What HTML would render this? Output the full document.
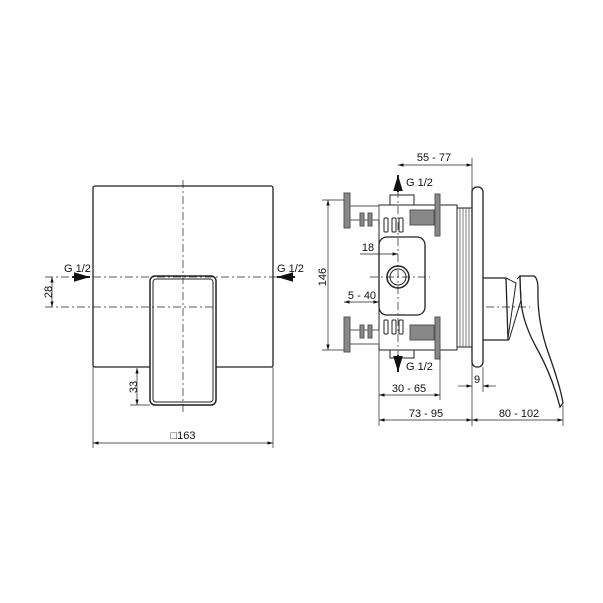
<!DOCTYPE html>
<html><head><style>body{margin:0;background:#fff}svg{display:block}text{font-family:"Liberation Sans",sans-serif;font-size:11px;fill:#111}</style></head><body>
<svg width="603" height="603" viewBox="0 0 603 603">
<defs><marker id="a" viewBox="0 0 10 6" refX="10" refY="3" markerWidth="8" markerHeight="5" orient="auto-start-reverse"><path d="M0,0L10,3L0,6z" fill="#111"/></marker></defs>
<g fill="none" stroke="#222" stroke-width="1">
<!-- left view -->
<rect x="93" y="186" width="180" height="181" rx="2" stroke-width="1.3"/>
<rect x="150" y="276" width="66" height="129" rx="5" fill="#fff" stroke-width="1.5"/>
<rect x="153" y="279" width="60" height="123" rx="3"/>
<g stroke-dasharray="8,3,2,3" stroke-width="0.7">
<line x1="183" y1="180" x2="183" y2="415"/>
<line x1="45" y1="277" x2="295" y2="277"/>
<line x1="45" y1="307" x2="215" y2="307"/>
</g>
<line x1="72" y1="277" x2="90" y2="277" stroke-width="2" marker-end="url(#a)"/>
<line x1="295" y1="277" x2="277" y2="277" stroke-width="2" marker-end="url(#a)"/>
<line x1="52" y1="277" x2="52" y2="307" stroke-width="0.7" marker-start="url(#a)" marker-end="url(#a)"/>
<line x1="137" y1="368" x2="137" y2="405" stroke-width="0.7" marker-start="url(#a)" marker-end="url(#a)"/>
<line x1="130" y1="405" x2="150" y2="405" stroke-width="0.7"/>
<line x1="93" y1="367" x2="93" y2="448" stroke-width="0.7"/>
<line x1="273" y1="367" x2="273" y2="448" stroke-width="0.7"/>
<line x1="93" y1="443" x2="273" y2="443" stroke-width="0.7" marker-start="url(#a)" marker-end="url(#a)"/>
<!-- right view -->
<rect x="472" y="187" width="11" height="180" rx="5" stroke-width="1.3"/>
<rect x="457" y="208" width="15" height="139"/>
<g stroke-width="0.6"><line x1="460" y1="208" x2="460" y2="347"/><line x1="463" y1="208" x2="463" y2="347"/><line x1="466" y1="208" x2="466" y2="347"/><line x1="469" y1="208" x2="469" y2="347"/></g>
<rect x="379" y="205" width="78" height="145"/>
<rect x="379" y="237" width="46" height="78" rx="8" stroke-width="1.3" fill="#fff"/>
<circle cx="398" cy="277" r="11" stroke-width="1.5"/><circle cx="398" cy="277" r="8"/>
<rect x="390" y="195" width="24" height="10"/>
<rect x="390" y="350" width="24" height="8"/>
<g fill="#888" stroke="#555"><rect x="344" y="193" width="6" height="35"/><rect x="344" y="317" width="6" height="35"/><rect x="435" y="194" width="5" height="42"/><rect x="435" y="317" width="5" height="42"/>
<rect x="350" y="206" width="29" height="14" fill="#fff"/><rect x="350" y="330" width="29" height="14" fill="#fff"/>
<rect x="360" y="213" width="4" height="13"/><rect x="368" y="213" width="4" height="13"/><rect x="360" y="325" width="4" height="13"/><rect x="368" y="325" width="4" height="13"/>
<rect x="410" y="210" width="24" height="15"/><rect x="410" y="325" width="24" height="15"/></g>
<rect x="384" y="218" width="4" height="14" rx="1"/><rect x="392" y="218" width="4" height="14" rx="1"/><rect x="399" y="218" width="4" height="14" rx="1"/>
<rect x="384" y="320" width="4" height="14" rx="1"/><rect x="392" y="320" width="4" height="14" rx="1"/><rect x="399" y="320" width="4" height="14" rx="1"/>
<path d="M483,278 L506,278 L508,340 L483,340" stroke-width="1.3"/>
<path d="M506,278 L516,283 L508,338" />
<path d="M520,276 L534,276 Q538,278 538,290 Q537,320 548,352 Q560,385 563,403 L560,407 Q552,375 535,345 Q522,320 521,300 Q520,285 520,276 Z" fill="#fff" stroke-width="1.3"/>
<path d="M517,279 L520,276 L521,300 L509,340" />
<g stroke-dasharray="8,3,2,3" stroke-width="0.7"><line x1="398" y1="190" x2="398" y2="360"/><line x1="370" y1="277" x2="430" y2="277"/><line x1="486" y1="307" x2="530" y2="307"/></g>
<line x1="398" y1="192" x2="398" y2="175" stroke-width="2" marker-end="url(#a)"/>
<line x1="398" y1="355" x2="398" y2="372" stroke-width="2" marker-end="url(#a)"/>
<g stroke-width="0.7">
<line x1="398" y1="165" x2="472" y2="165" marker-start="url(#a)" marker-end="url(#a)"/>
<line x1="472" y1="158" x2="472" y2="426"/>
<line x1="322" y1="200" x2="344" y2="200"/><line x1="322" y1="350" x2="344" y2="350"/>
<line x1="328" y1="200" x2="328" y2="350" marker-start="url(#a)" marker-end="url(#a)"/>
<line x1="360" y1="254" x2="398" y2="254" marker-end="url(#a)"/>
<line x1="344" y1="302" x2="379" y2="302" marker-start="url(#a)" marker-end="url(#a)"/>
<line x1="379" y1="350" x2="379" y2="426"/><line x1="440" y1="355" x2="440" y2="400"/><line x1="563" y1="405" x2="563" y2="426"/>
<line x1="379" y1="395" x2="440" y2="395" marker-start="url(#a)" marker-end="url(#a)"/>
<line x1="379" y1="420" x2="472" y2="420" marker-start="url(#a)" marker-end="url(#a)"/>
<line x1="472" y1="420" x2="563" y2="420" marker-start="url(#a)" marker-end="url(#a)"/>
<line x1="458" y1="386" x2="472" y2="386" marker-end="url(#a)"/>
<line x1="496" y1="386" x2="483" y2="386" marker-end="url(#a)"/>
<line x1="483" y1="367" x2="483" y2="392"/>
</g>
</g>
<text x="64" y="272">G 1/2</text><text x="277" y="272">G 1/2</text>
<text x="48" y="292" text-anchor="middle" transform="rotate(-90 48 292)" dy="4">28</text>
<text x="133" y="387" text-anchor="middle" transform="rotate(-90 133 387)" dy="4">33</text>
<text x="183" y="439" text-anchor="middle">□163</text>
<text x="434" y="161" text-anchor="middle">55 - 77</text>
<text x="406" y="186">G 1/2</text><text x="406" y="370">G 1/2</text>
<text x="322" y="277" text-anchor="middle" transform="rotate(-90 322 277)" dy="4">146</text>
<text x="368" y="251" text-anchor="middle">18</text>
<text x="362" y="299" text-anchor="middle">5 - 40</text>
<text x="409" y="392" text-anchor="middle">30 - 65</text>
<text x="426" y="417" text-anchor="middle">73 - 95</text>
<text x="519" y="417" text-anchor="middle">80 - 102</text>
<text x="477" y="383" text-anchor="middle">9</text>
</svg>
</body></html>
